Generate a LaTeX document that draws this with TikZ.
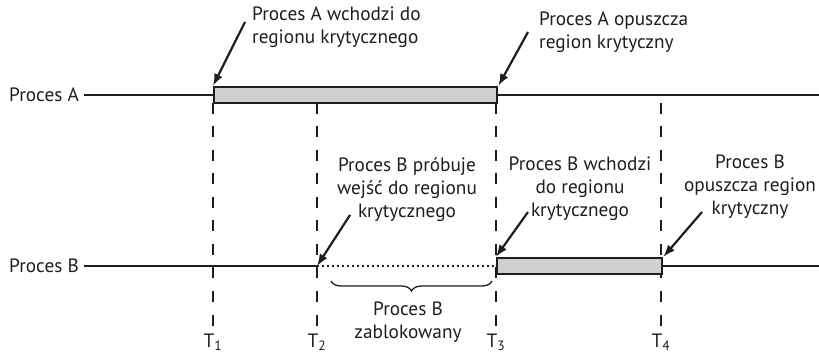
\documentclass[tikz,border=0pt]{standalone}
\usepackage{fontspec}
\setmainfont{PT Sans}
\usetikzlibrary{arrows.meta, positioning, calc, decorations.pathreplacing}
\definecolor{cbar}{HTML}{CFCFCF}
\definecolor{cink}{HTML}{1E1E1E}
\tikzset{
  every picture/.style={font=\fontsize{19.3}{23}\selectfont, line width=2.4pt, color=cink},
  proc/.style={anchor=west, inner sep=4pt},
  note/.style={align=center, inner sep=0pt},
  bar/.style={draw=cink, fill=cbar, line width=2.4pt, minimum height=16pt, anchor=west, inner sep=0pt},
  arrow/.style={-{Latex[length=12pt, width=9pt]}, line width=2.2pt},
  tick/.style={dash pattern=on 11pt off 12.5pt, line width=2.4pt},
  wait/.style={dash pattern=on 2pt off 3pt, line width=2.2pt},
  tlabel/.style={inner sep=0pt},
}
\begin{document}
\begin{tikzpicture}[x=1pt, y=-1pt]
  \useasboundingbox (0,0) rectangle (819,355);
  % time marks T1..T4
  \foreach \x/\n in {213/1, 317/2, 496/3, 661/4} {
    \coordinate (top\n) at (\x,103);
    \coordinate (bot\n) at (\x,327);
    \node[tlabel] (T\n) at (\x,342) {T\textsubscript{\n}};
  }
  \foreach \n in {1,...,4} \draw[tick] (top\n) -- (bot\n);
  % process A
  \node[proc] (labA) at (4,95) {Proces A};
  \coordinate (endA) at (819,95);
  \draw (labA.east) -- (endA);
  \node[bar, minimum width=283pt] (barA) at (213,95) {};
  \node[note, align=left, anchor=north west] (inA) at (251,6) {Proces A wchodzi do\\regionu krytycznego};
  \node[note, align=left, anchor=north west] (outA) at (538,11) {Proces A opuszcza\\region krytyczny};
  \draw[arrow] ($(inA.north west)+(-6,16)$) -- (barA.north west);
  \draw[arrow] ($(outA.north west)+(-10,21)$) -- (barA.north east);
  % process B
  \node[proc] (labB) at (4,266) {Proces B};
  \coordinate (tryB) at (317,266);
  \coordinate (endB) at (819,266);
  \draw (labB.east) -- (tryB);
  \draw[wait] (tryB) -- (496,266);
  \node[bar, minimum width=165pt] (barB) at (496,266) {};
  \draw (barB.east) -- (endB);
  \node[note, anchor=north] (tryTxt) at (407,156) {Proces B próbuje\\wejść do regionu\\krytycznego};
  \node[note, anchor=north] (inB) at (580,156) {Proces B wchodzi\\do regionu\\krytycznego};
  \node[note, anchor=north] (outB) at (750,154) {Proces B\\opuszcza region\\krytyczny};
  \draw[arrow] ($(tryTxt.north)+(-57,59)$) -- (tryB);
  \draw[arrow] ($(inB.north)+(-52,56)$) -- (barB.north west);
  \draw[arrow] ($(outB.north)+(-48,58)$) -- (barB.north east);
  % blocked interval
  \draw[decorate, decoration={brace, mirror, amplitude=10pt}, line width=1.3pt] (331,281) -- (492,281);
  \node[note, anchor=north] (blk) at (408,301) {Proces B\\zablokowany};
\end{tikzpicture}
\end{document}
